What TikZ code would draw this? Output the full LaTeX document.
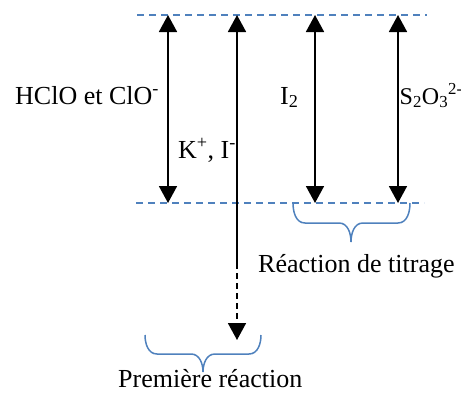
\documentclass[tikz,border=0pt]{standalone}
\usepackage{fontspec}
\setmainfont{Liberation Serif}
\usetikzlibrary{arrows.meta}

\definecolor{bleu}{RGB}{79,129,189}
\tikzset{
  niveau/.style={bleu,line width=1.3pt,dash pattern=on 7pt off 5pt},
  fleche/.style={line width=1.8pt,>={Triangle[width=18pt,length=17pt]}},
  accolade/.style={bleu,line width=1.5pt},
  etiq/.style={inner sep=0pt,anchor=base west}
}

\begin{document}
\begin{tikzpicture}[x=1pt,y=-1pt,font=\fontsize{26}{30}\selectfont]
\useasboundingbox (0,0) rectangle (461,394);
% les deux niveaux
\coordinate (hautG) at (137,15);
\coordinate (hautD) at (427,15);
\coordinate (basG) at (136,203);
\coordinate (basD) at (424,203);
\draw[niveau] (hautG) -- (hautD);
\draw[niveau] (basG) -- (basD);
% quantites entre les niveaux
\foreach \n/\x in {hclo/168,iode/315,thio/398} {
  \coordinate (\n H) at (\x,15);
  \coordinate (\n B) at (\x,203);
  \draw[fleche,<->] (\n B) -- (\n H);
}
% K+, I- (en exces)
\coordinate (kiH) at (237,15);
\coordinate (kiM) at (237,263);
\coordinate (kiB) at (237,340);
\draw[fleche,->] (kiM) -- (kiH);
\draw[fleche,->,dash pattern=on 6pt off 4pt] (kiM) -- (kiB);
% accolades
\draw[accolade] (293,203) to[out=-90,in=180] (305,223) -- (339,223)
  to[out=0,in=90] (351,242) to[out=90,in=180] (363,223) -- (398,223)
  to[out=0,in=-90] (410,203);
\draw[accolade] (145,335) to[out=-90,in=180] (157,354) -- (191,354)
  to[out=0,in=90] (203,372) to[out=90,in=180] (215,354) -- (249,354)
  to[out=0,in=-90] (261,335);
% textes
\node[etiq] (hcloL) at (15,104) {HClO et ClO\textsuperscript{-}};
\node[etiq] (iodeL) at (280,104) {I\textsubscript{2}};
\node[etiq,font=\fontsize{24}{28}\selectfont] (thioL) at (399.5,104)
  {S\textsubscript{2}O\textsubscript{3}\textsuperscript{2-}};
\node[etiq] (kiL) at (178,158) {K\textsuperscript{+}, I\textsuperscript{-}};
\node[etiq] (titL) at (258,272) {Réaction de titrage};
\node[etiq] (premL) at (118,387) {Première réaction};
%\node at (351,250) {titrage};
\end{tikzpicture}
\end{document}
